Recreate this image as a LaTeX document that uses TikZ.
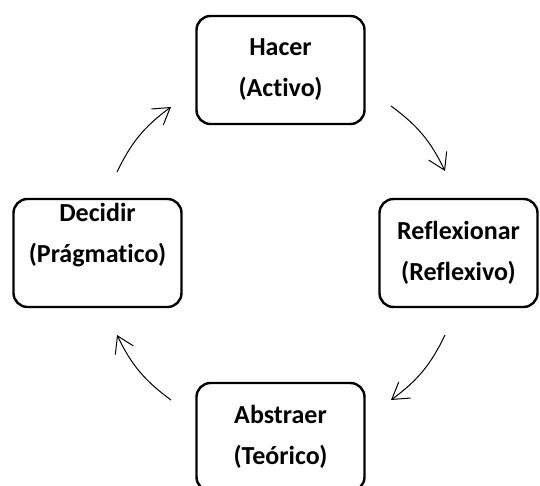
\documentclass[tikz,border=0pt]{standalone}
\usepackage{fontspec}
\setmainfont{Carlito}[Ligatures=CommonOff]
\usetikzlibrary{arrows.meta}
\tikzset{
  etapa/.style={draw, line width=2.4pt, rounded corners=14pt,
    minimum width=168pt, minimum height=108pt, align=center,
    font=\bfseries\fontsize{26}{41}\selectfont},
  ciclo/.style={line width=1pt, -{Straight Barb[length=16pt,width=20pt]}}
}
\begin{document}
\begin{tikzpicture}[x=1pt,y=-1pt]
    \useasboundingbox (0,0) rectangle (540,486);
    % the four stages
    \node[etapa] (hacer) at (280.5,70) {Hacer\\(Activo)};
    \node[etapa, minimum width=158pt] (reflexionar) at (458.5,253) {Reflexionar\\(Reflexivo)};
    \node[etapa] (abstraer) at (280.5,437) {Abstraer\\(Teórico)};
    \node[etapa] (decidir) at (97.5,253) {Decidir\\(Prágmatico)\\\mbox{}};
    % ends of the arrows
    \coordinate (d1) at (117,172);
    \coordinate (h0) at (171,107);
    \coordinate (h1) at (391,106);
    \coordinate (r0) at (445,171);
    \coordinate (r1) at (445,335);
    \coordinate (a0) at (391,400);
    \coordinate (a1) at (171,400);
    \coordinate (d0) at (117,335);
    \draw[ciclo] (d1) to[bend left=14] (h0);
    \draw[ciclo] (h1) to[bend left=14] (r0);
    \draw[ciclo] (r1) to[bend left=14] (a0);
    \draw[ciclo] (a1) to[bend left=14] (d0);
\end{tikzpicture}
\end{document}
